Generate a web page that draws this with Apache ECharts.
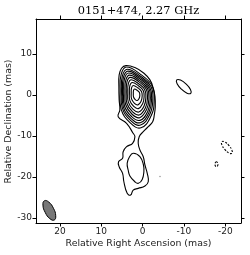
<!DOCTYPE html>
<html><head><meta charset="utf-8">
<script src="https://cdn.jsdelivr.net/npm/echarts@6/dist/echarts.min.js"></script>
<style>html,body{margin:0;padding:0;background:#fff}#c{width:250px;height:255px}</style>
</head><body><div id="c"></div>
<script>
// ---- data (mas) ----
const titleText = '0151+474, 2.27 GHz';
const xName = 'Relative Right Ascension (mas)';
const yName = 'Relative Declination (mas)';
const xTicks = [20, 10, 0, -10, -20];
const yTicks = [10, 0, -10, -20, -30];
const xRange = [-23.8, 25.8];
const yRange = [-31.2, 18.5];

// lowest positive contour (core + jet)
const outerContour = [[4.05,7.15],[1.87,6.66],[-0.32,5.29],[-1.77,3.66],[-2.57,1.63],[-2.99,-0.41],[-3.06,-2.85],[-2.82,-4.88],[-2.43,-6.51],[-1.36,-7.73],[-0.15,-8.95],[0.83,-10.17],[1.07,-11.78],[0.66,-13.41],[-0.15,-15.05],[-0.56,-17.07],[-1.12,-19.1],[-1.36,-21.15],[-0.56,-22.2],[1.07,-22.76],[2.28,-23.17],[2.91,-24.39],[3.74,-23.98],[4.54,-21.15],[4.85,-19.1],[5.68,-17.49],[5.83,-16.27],[4.85,-15.44],[4.71,-13.83],[3.88,-12.61],[2.43,-11.78],[1.87,-10.17],[2.35,-9.27],[3.88,-6.9],[5.92,-5.29],[5.51,-3.66],[5.68,-1.22],[5.75,2.02],[5.68,4.88],[5.1,6.51]];

// nested core contours, innermost first
const core1  = [[1.96,1.45],[1.31,1.11],[0.78,0.58],[0.68,-0.12],[0.84,-0.83],[1.29,-1.36],[1.79,-1.13],[2.20,-0.50],[2.25,0.35],[2.20,1.11]];
const core2  = [[2.27,2.31],[1.18,1.74],[0.28,0.84],[0.12,-0.34],[0.38,-1.53],[1.15,-2.42],[1.98,-2.04],[2.68,-0.98],[2.76,0.46],[2.68,1.74]];
const core3  = [[2.53,3.04],[1.07,2.26],[-0.13,1.06],[-0.35,-0.53],[0.00,-2.12],[1.03,-3.33],[2.15,-2.81],[3.09,-1.39],[3.20,0.54],[3.09,2.26]];
const core4  = [[2.77,3.70],[0.97,2.74],[-0.51,1.26],[-0.78,-0.70],[-0.36,-2.66],[0.92,-4.15],[2.30,-3.51],[3.46,-1.76],[3.59,0.62],[3.46,2.74]];
const core5  = [[2.99,4.29],[0.88,3.18],[-0.86,1.44],[-1.17,-0.85],[-0.67,-3.15],[0.82,-4.88],[2.43,-4.14],[3.79,-2.09],[3.95,0.70],[3.79,3.18]];
const core6  = [[3.18,4.82],[0.80,3.56],[-1.16,1.60],[-1.51,-0.99],[-0.95,-3.58],[0.73,-5.54],[2.55,-4.70],[4.09,-2.39],[4.27,0.76],[4.09,3.56]];
const core7  = [[3.37,5.35],[0.72,3.94],[-1.46,1.76],[-1.85,-1.13],[-1.23,-4.01],[0.64,-6.20],[2.67,-5.26],[4.39,-2.69],[4.58,0.82],[4.39,3.94]];
const core8  = [[3.54,5.81],[0.65,4.28],[-1.73,1.90],[-2.16,-1.25],[-1.48,-4.39],[0.57,-6.77],[2.78,-5.75],[4.65,-2.95],[4.86,0.88],[4.65,4.28]];
const core9  = [[3.71,6.27],[0.58,4.62],[-2.00,2.04],[-2.46,-1.36],[-1.72,-4.77],[0.49,-7.34],[2.88,-6.24],[4.90,-3.20],[5.13,0.94],[4.90,4.62]];
const core10 = [[3.90,6.80],[0.50,5.00],[-2.30,2.20],[-2.80,-1.50],[-2.00,-5.20],[0.40,-8.00],[3.00,-6.80],[5.20,-3.50],[5.45,1.00],[5.20,5.00]];

// second contour around the jet knot
const jetKnot = [[2.28,-14.22],[0.66,-15.05],[-0.2,-17.07],[-0.3,-18.71],[0.1,-20.6],[1.02,-21.54],[1.87,-21.15],[3.08,-19.76],[3.50,-18.29],[3.74,-16.66],[3.20,-15.12]];
// isolated positive contour
const westBlob = [[-11.65,0.40],[-10.74,0.44],[-9.37,1.41],[-8.34,2.73],[-8.25,3.65],[-9.16,3.61],[-10.54,2.64],[-11.57,1.32]];
// negative contours (dashed)
const negContourA = [[-21.60,-14.23],[-20.88,-14.13],[-19.87,-13.25],[-19.16,-12.11],[-19.17,-11.38],[-19.90,-11.48],[-20.90,-12.36],[-21.61,-13.50]];
const negContourB = [[-17.86,-16.27],[-17.56,-16.55],[-17.54,-17.15],[-17.86,-17.49],[-18.18,-17.15],[-18.18,-16.6]];
// restoring beam
const beamOutline = [[21.38,-30.47],[22.44,-30.14],[23.57,-28.63],[24.12,-26.82],[23.76,-25.78],[22.71,-26.10],[21.58,-27.61],[21.03,-29.42]];
// tiny speck
const speck = [[-4.2,-19.9]];

const solidContours = [outerContour, core10, core9, core8, core7, core6, core5, core4, core3, core2, core1, jetKnot, westBlob];
const dashedContours = [negContourA, negContourB];

// ---- chart ----
function contourSeries(list, st) {
  return {
    type: 'custom', coordinateSystem: 'cartesian2d', xAxisIndex: 0, yAxisIndex: 0,
    silent: true, animation: false,
    data: list.map((c, i) => [c[0][0], c[0][1], i]),
    encode: { x: 0, y: 1 },
    renderItem: function (params, api) {
      const pts = list[api.value(2)].map(p => api.coord(p));
      return {
        type: 'polygon',
        shape: { points: pts, smooth: st.smooth },
        style: { fill: st.fill, stroke: st.stroke, lineWidth: st.lw, lineDash: st.dash }
      };
    }
  };
}

const axisCommon = {
  type: 'value',
  axisLine: { show: true, onZero: false, lineStyle: { color: '#000', width: 1 } },
  splitLine: { show: false }
};
const tickStyle = { show: true, inside: false, length: 3.5, lineStyle: { color: '#000', width: 1 } };
const labelStyle = { color: '#222', fontSize: 9, fontFamily: 'DejaVu Sans' };

const chart = echarts.init(document.getElementById('c'), null, { renderer: 'canvas' });
chart.setOption({
  animation: false,
  backgroundColor: '#fff',
  grid: { left: 36, right: 9, top: 19, bottom: 32 },
  xAxis: [
    Object.assign({}, axisCommon, { position: 'bottom', min: xRange[0], max: xRange[1], inverse: true,
      axisTick: Object.assign({ customValues: xTicks }, tickStyle),
      axisLabel: Object.assign({ customValues: xTicks, margin: 4 }, labelStyle) }),
    Object.assign({}, axisCommon, { position: 'top', min: xRange[0], max: xRange[1], inverse: true,
      axisTick: Object.assign({ customValues: xTicks }, tickStyle),
      axisLabel: { show: false } })
  ],
  yAxis: [
    Object.assign({}, axisCommon, { position: 'left', min: yRange[0], max: yRange[1],
      axisTick: Object.assign({ customValues: yTicks }, tickStyle),
      axisLabel: Object.assign({ customValues: yTicks, margin: 4 }, labelStyle) }),
    Object.assign({}, axisCommon, { position: 'right', min: yRange[0], max: yRange[1],
      axisTick: Object.assign({ customValues: yTicks }, tickStyle),
      axisLabel: { show: false } })
  ],
  graphic: [
    { type: 'text', x: 138.5, y: 11, style: { text: titleText, fontSize: 11.4, fontFamily: 'DejaVu Serif', fill: '#000', align: 'center', verticalAlign: 'middle' } },
    { type: 'text', x: 138.5, y: 243.5, style: { text: xName, fontSize: 9.4, fontFamily: 'DejaVu Sans', fill: '#222', align: 'center', verticalAlign: 'middle' } },
    { type: 'text', x: 8.5, y: 121.5, rotation: Math.PI / 2, style: { text: yName, fontSize: 9.4, fontFamily: 'DejaVu Sans', fill: '#222', align: 'center', verticalAlign: 'middle' } }
  ],
  series: [
    contourSeries([beamOutline], { smooth: 0.5, fill: '#777', stroke: '#000', lw: 1, dash: null }),
    contourSeries(solidContours, { smooth: 0.45, fill: 'none', stroke: '#000', lw: 1.1, dash: null }),
    contourSeries(dashedContours, { smooth: 0.5, fill: 'none', stroke: '#000', lw: 1.1, dash: [2, 1.5] }),
    { type: 'scatter', data: speck, symbolSize: 1.5, itemStyle: { color: '#777' }, silent: true }
  ]
});
</script></body></html>
